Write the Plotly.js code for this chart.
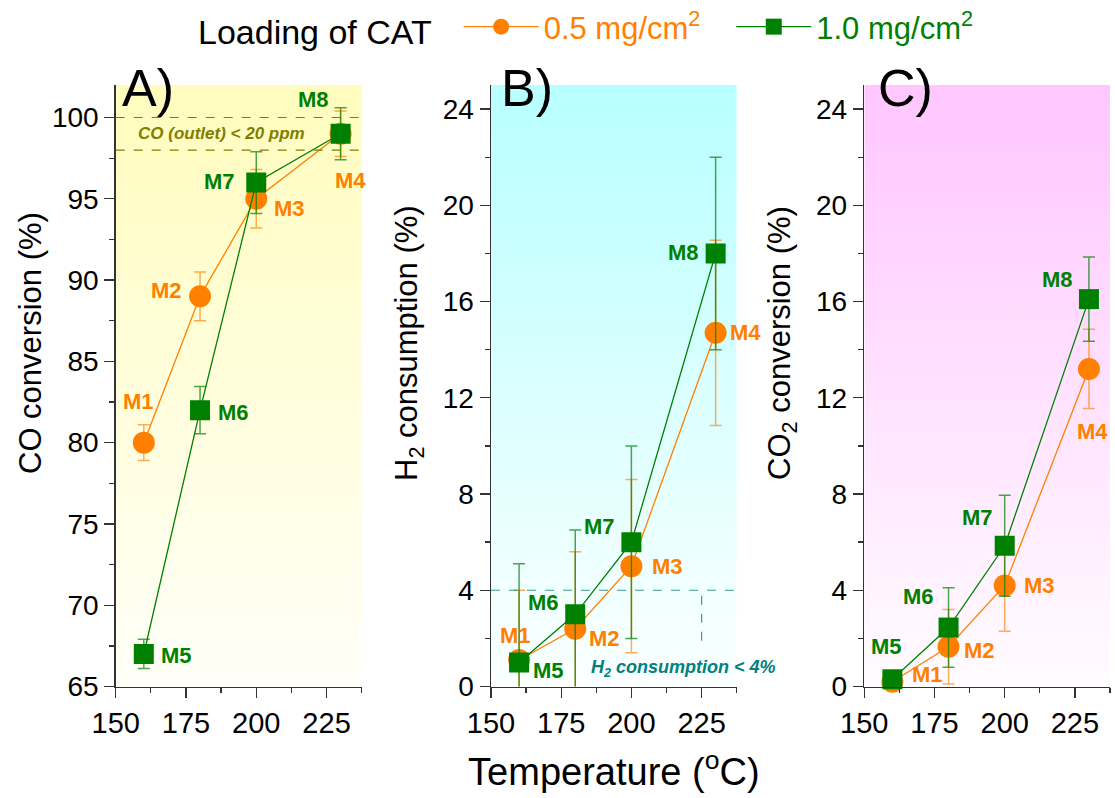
<!DOCTYPE html>
<html>
<head>
<meta charset="utf-8">
<script src="https://cdn.plot.ly/plotly-3.0.1.min.js"></script>
<style>html,body{margin:0;padding:0;background:#fff;}#chart{width:1115px;height:798px;}</style>
</head>
<body>
<div id="chart"></div>
<script>
// ---------------- data ----------------
const temps = [160, 180, 200, 230];
const names05 = ['M1', 'M2', 'M3', 'M4'];
const names10 = ['M5', 'M6', 'M7', 'M8'];

const coConv05 = [80, 89, 95, 99];
const coConv05Err = [1.1, 1.5, 1.8, 1.4];
const coConv10 = [67, 82, 96, 99];
const coConv10Err = [0.9, 1.45, 1.9, 1.6];

const h2Cons05 = [1.1, 2.4, 5.0, 14.7];
const h2Cons05Err = [2.9, 3.2, 3.6, 3.85];
const h2Cons10 = [1.0, 3.0, 6.0, 18.0];
const h2Cons10Err = [4.1, 3.5, 4.0, 4.0];

const co2Conv05 = [0.2, 1.65, 4.2, 13.2];
const co2Conv05Err = [0.2, 1.55, 1.9, 1.65];
const co2Conv10 = [0.3, 2.45, 5.85, 16.1];
const co2Conv10Err = [0.2, 1.65, 2.1, 1.75];

const coOutletLimits = [98, 100];      // band: CO (outlet) < 20 ppm
const h2Limit = 4;                      // H2 consumption < 4%
const h2LimitMarkX = 225;
const h2LimitMarkLow = 1.9;

const seriesNames = ['0.5 mg/cm<sup>2</sup>', '1.0 mg/cm<sup>2</sup>'];
const legendTitle = 'Loading of CAT';
const panelLabels = ['A)', 'B)', 'C)'];
const yTitles = ['CO conversion (%)', 'H<sub>2</sub> consumption (%)', 'CO<sub>2</sub> conversion (%)'];
const xTitle = 'Temperature (<sup>o</sup>C)';

// ---------------- styles ----------------
const W = 1115, H = 798;
const px = v => v / W;
const py = v => 1 - v / H;
const ORANGE = '#FF8000', GREEN = '#008000';
const FONT = 'Liberation Sans, Arial, sans-serif';
const NB = '\u00a0';

function grad(top, bottom) {
  const svg = `<svg xmlns="http://www.w3.org/2000/svg" width="100" height="100" preserveAspectRatio="none"><defs><linearGradient id="g" x1="0" y1="0" x2="0" y2="1"><stop offset="0" stop-color="${top}"/><stop offset="1" stop-color="${bottom}"/></linearGradient></defs><rect width="100" height="100" fill="url(#g)"/></svg>`;
  return 'data:image/svg+xml;charset=utf-8,' + encodeURIComponent(svg);
}

function trace(xa, ya, y, err, color, errColor, symbol, size, name, pad, showlegend, clip) {
  return {
    type: 'scatter', mode: 'lines+markers', x: temps, y: y,
    xaxis: xa, yaxis: ya,
    name: `<span style="color:${color}">${name}</span>` + pad,
    legendgroup: name, showlegend: showlegend, cliponaxis: clip,
    line: {color: color, width: 1.3},
    marker: {symbol: symbol, size: size, color: color},
    error_y: {type: 'data', array: err, visible: true, color: errColor, thickness: 1.5, width: 6}
  };
}

const oErr = 'rgba(255,128,0,0.65)', gErr = 'rgba(0,128,0,0.7)';
const padA = NB.repeat(3);
const data = [
  trace('x', 'y', coConv05, coConv05Err, ORANGE, oErr, 'circle', 22, seriesNames[0], padA, true, true),
  trace('x', 'y', coConv10, coConv10Err, GREEN, gErr, 'square', 20, seriesNames[1], '', true, true),
  trace('x2', 'y2', h2Cons05, h2Cons05Err, ORANGE, oErr, 'circle', 22, seriesNames[0], '', false, true),
  trace('x2', 'y2', h2Cons10, h2Cons10Err, GREEN, gErr, 'square', 20, seriesNames[1], '', false, true),
  trace('x3', 'y3', co2Conv05, co2Conv05Err, ORANGE, oErr, 'circle', 22, seriesNames[0], '', false, false),
  trace('x3', 'y3', co2Conv10, co2Conv10Err, GREEN, gErr, 'square', 20, seriesNames[1], '', false, false)
];

const xDomains = [[px(115.7), px(361.7)], [px(491), px(736.7)], [px(864.3), px(1110)]];
const yDomain = [py(686.5), py(85)];

function xaxis(i) {
  return {
    domain: xDomains[i], range: [150, 237.5], anchor: i === 0 ? 'y' : 'y' + (i + 1),
    tick0: 150, dtick: 25, ticks: 'outside', ticklen: 10, tickwidth: 1.3, tickcolor: '#333',
    minor: {dtick: 12.5, ticks: 'outside', ticklen: 5, tickwidth: 1.3, tickcolor: '#333'},
    showline: true, linecolor: '#333', linewidth: 1.5, showgrid: false, zeroline: false,
    tickfont: {family: FONT, size: 29, color: '#000'}, fixedrange: true, automargin: false
  };
}
function yaxis(i, range, dtick) {
  return {
    domain: yDomain, range: range, anchor: i === 0 ? 'x' : 'x' + (i + 1),
    dtick: dtick, ticks: 'outside', ticklen: 10, tickwidth: 1.3, tickcolor: '#333',
    minor: {dtick: dtick / 2, ticks: 'outside', ticklen: 5, tickwidth: 1.3, tickcolor: '#333'},
    showline: true, linecolor: '#333', linewidth: 1.5, showgrid: false, zeroline: false,
    tickfont: {family: FONT, size: 28, color: '#000'}, fixedrange: true, automargin: false
  };
}

// label offsets [xanchor, xshift, yshift] per panel
const labelPos = [
  { M1: ['center', -5, 41], M2: ['right', -16, 6], M3: ['left', 16, -10], M4: ['center', 10, -47],
    M5: ['left', 15, -2], M6: ['left', 16, -2], M7: ['right', -19, 1], M8: ['center', -27, 34] },
  { M1: ['center', -4, 25], M2: ['left', 12, -10], M3: ['left', 19, 0], M4: ['left', 12, 0],
    M5: ['left', 12, -8], M6: ['right', -14, 12], M7: ['right', -14, 16], M8: ['right', -15, 1] },
  { M1: ['left', 18, 7], M2: ['left', 13, -4], M3: ['left', 17, 0], M4: ['center', 4, -63],
    M5: ['center', -6, 33], M6: ['right', -13, 31], M7: ['right', -10, 28], M8: ['right', -14, 20] }
];
const panelSeries = [[coConv05, coConv10], [h2Cons05, h2Cons10], [co2Conv05, co2Conv10]];

const annotations = [];
panelSeries.forEach((ser, p) => {
  const xr = p === 0 ? 'x' : 'x' + (p + 1), yr = p === 0 ? 'y' : 'y' + (p + 1);
  [[names05, ser[0], ORANGE], [names10, ser[1], GREEN]].forEach(([nm, vals, col]) => {
    nm.forEach((n, i) => {
      const o = labelPos[p][n];
      annotations.push({
        x: temps[i], y: vals[i], xref: xr, yref: yr, text: n, showarrow: false,
        xanchor: o[0], yanchor: 'middle', xshift: o[1], yshift: o[2],
        font: {family: FONT, size: 22, color: col, weight: 'bold'}
      });
    });
  });
});

// panel letters
[[148, 'A)'], [527, 'B)'], [905, 'C)']].forEach(([cx], i) => {
  annotations.push({xref: 'paper', yref: 'paper', x: px(cx), y: py(88), text: panelLabels[i],
    showarrow: false, xanchor: 'center', yanchor: 'middle', font: {family: FONT, size: 52, color: '#000'}});
});
// y titles
[[30], [409], [782]].forEach(([cx], i) => {
  annotations.push({xref: 'paper', yref: 'paper', x: px(cx), y: py(343), text: yTitles[i], textangle: -90,
    showarrow: false, xanchor: 'center', yanchor: 'middle', font: {family: FONT, size: 31, color: '#000'}});
});
// threshold notes
annotations.push({xref: 'x domain', yref: 'y', x: 0.43, y: (coOutletLimits[0] + coOutletLimits[1]) / 2,
  text: '<b><i>CO (outlet) &lt; 20 ppm</i></b>', showarrow: false, xanchor: 'center', yanchor: 'middle',
  font: {family: FONT, size: 17, color: '#808000'}});
annotations.push({xref: 'x2 domain', yref: 'y2', x: 0.4, y: 0.73,
  text: '<b><i>H<sub>2</sub> consumption &lt; 4%</i></b>', showarrow: false, xanchor: 'left', yanchor: 'middle',
  font: {family: FONT, size: 18, color: '#008080'}});

const shapes = [];
coOutletLimits.forEach(v => shapes.push({type: 'line', xref: 'x domain', yref: 'y', x0: 0, x1: 1, y0: v, y1: v,
  line: {color: '#808000', width: 1.2, dash: 'dash'}}));
shapes.push({type: 'line', xref: 'x2 domain', yref: 'y2', x0: 0, x1: 1, y0: h2Limit, y1: h2Limit,
  line: {color: '#3a9a9a', width: 1.2, dash: 'dash'}});
shapes.push({type: 'line', xref: 'x2', yref: 'y2', x0: h2LimitMarkX, x1: h2LimitMarkX, y0: h2LimitMarkLow, y1: h2Limit,
  line: {color: '#3a9a9a', width: 1.2, dash: 'dash'}});

const images = [
  ['x', 'y', '#fffcbe', '#fffff8'],
  ['x2', 'y2', '#b8ffff', '#fcffff'],
  ['x3', 'y3', '#ffc6ff', '#fffcff']
].map(([xr, yr, t, b]) => ({source: grad(t, b), xref: xr + ' domain', yref: yr + ' domain', x: 0, y: 1,
  sizex: 1, sizey: 1, xanchor: 'left', yanchor: 'top', sizing: 'stretch', layer: 'below'}));

const layout = {
  width: W, height: H, margin: {l: 0, r: 0, t: 0, b: 0, autoexpand: false},
  paper_bgcolor: '#fff', plot_bgcolor: 'rgba(0,0,0,0)',
  font: {family: FONT, color: '#000'},
  xaxis: xaxis(0),
  xaxis2: Object.assign(xaxis(1), {title: {text: xTitle, font: {family: FONT, size: 38, color: '#000'}, standoff: 20}}),
  xaxis3: xaxis(2),
  yaxis: yaxis(0, [65, 102], 5),
  yaxis2: yaxis(1, [0, 25], 4),
  yaxis3: yaxis(2, [0, 25], 4),
  showlegend: true,
  legend: {orientation: 'h', x: px(196), y: py(0), xanchor: 'left', yanchor: 'top',
    title: {text: legendTitle + NB + NB, side: 'left', font: {family: FONT, size: 34, color: '#000'}},
    font: {family: FONT, size: 31}, bgcolor: 'rgba(0,0,0,0)', itemwidth: 75},
  annotations: annotations, shapes: shapes, images: images
};

Plotly.newPlot('chart', data, layout, {displayModeBar: false, staticPlot: true});
</script>
</body>
</html>
